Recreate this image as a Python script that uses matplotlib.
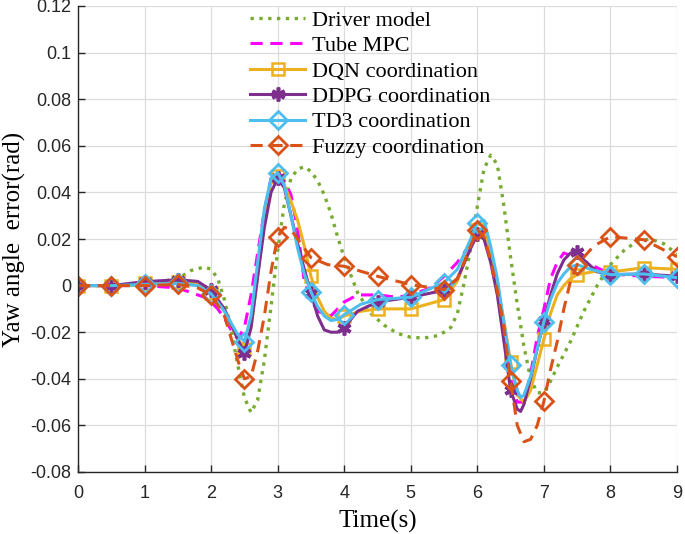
import matplotlib
matplotlib.use("Agg")
import matplotlib.pyplot as plt

# ---- data ----
t_driver = [0, 0.5, 1.0, 1.5, 1.7, 1.9, 2.0, 2.1, 2.2, 2.3, 2.4, 2.5, 2.6, 2.7, 2.8, 2.9,
            3.0, 3.1, 3.2, 3.3, 3.4, 3.5, 3.6, 3.7, 3.8, 3.9, 4.0, 4.2, 4.4, 4.6, 4.8,
            5.0, 5.2, 5.4, 5.5, 5.6, 5.7, 5.8, 5.9, 6.0, 6.1, 6.2, 6.3, 6.4, 6.5, 6.6,
            6.7, 6.8, 6.9, 7.0, 7.1, 7.2, 7.4, 7.6, 7.8, 8.0, 8.2, 8.4, 8.6, 8.8, 9.0]
y_driver = [0, 0, 0.0005, 0.003, 0.0065, 0.008, 0.007, 0.003, -0.006, -0.019, -0.034, -0.048,
            -0.0545, -0.049, -0.032, -0.009, 0.015, 0.035, 0.046, 0.050, 0.051, 0.049, 0.045,
            0.039, 0.031, 0.021, 0.012, -0.003, -0.012, -0.017, -0.0205, -0.0222, -0.0225,
            -0.0215, -0.020, -0.018, -0.012, 0.001, 0.016, 0.034, 0.050, 0.056, 0.052, 0.034,
            0.012, -0.008, -0.026, -0.040, -0.046, -0.046, -0.041, -0.035, -0.024, -0.011,
            0.000, 0.009, 0.015, 0.019, 0.020, 0.018, 0.0135]

t_tube = [0, 0.5, 1.0, 1.5, 1.7, 1.9, 2.0, 2.1, 2.2, 2.3, 2.4, 2.5, 2.6, 2.7, 2.8, 2.9, 3.0,
          3.1, 3.2, 3.3, 3.4, 3.5, 3.6, 3.8, 4.0, 4.2, 4.5, 4.8, 5.0, 5.3, 5.5, 5.7, 5.9,
          6.0, 6.1, 6.2, 6.3, 6.4, 6.5, 6.6, 6.7, 6.8, 6.9, 7.0, 7.1, 7.2, 7.3, 7.5, 7.7,
          8.0, 8.5, 9.0]
y_tube = [0, 0, 0, -0.001, -0.003, -0.005, -0.007, -0.010, -0.014, -0.019, -0.023, -0.018,
          -0.004, 0.014, 0.032, 0.046, 0.049, 0.045, 0.039, 0.024, 0.002, -0.006, -0.011,
          -0.013, -0.007, -0.004, -0.004, -0.005, -0.004, -0.001, 0.004, 0.010, 0.018, 0.022,
          0.022, 0.012, 0.002, -0.020, -0.040, -0.050, -0.050, -0.038, -0.022, -0.010, 0.003,
          0.010, 0.014, 0.012, 0.009, 0.005, 0.004, 0.0035]

t_dqn = [0, 0.5, 1.0, 1.5, 1.8, 2.0, 2.2, 2.4, 2.5, 2.6, 2.7, 2.8, 2.9, 3.0, 3.1, 3.2, 3.3,
         3.4, 3.5, 3.6, 3.7, 3.8, 3.9, 4.0, 4.25, 4.5, 5.0, 5.5, 5.7, 5.9, 6.0, 6.1, 6.2,
         6.3, 6.4, 6.5, 6.6, 6.7, 6.8, 6.9, 7.0, 7.1, 7.2, 7.3, 7.4, 7.5, 7.75, 8.0, 8.5, 9.0]
y_dqn = [0, 0, 0.001, 0.0015, 0.001, -0.003, -0.011, -0.023, -0.027, -0.018, 0.004, 0.028,
         0.044, 0.047, 0.043, 0.036, 0.028, 0.017, 0.004, -0.005, -0.011, -0.014, -0.0145,
         -0.013, -0.011, -0.010, -0.010, -0.006, 0.002, 0.017, 0.024, 0.024, 0.014, -0.001,
         -0.015, -0.033, -0.047, -0.050, -0.045, -0.034, -0.023, -0.012, -0.004, 0.000, 0.003,
         0.0047, 0.006, 0.0058, 0.0077, 0.007]

t_ddpg = [0, 0.5, 1.0, 1.5, 1.8, 2.0, 2.2, 2.4, 2.5, 2.6, 2.7, 2.8, 2.9, 3.0, 3.1, 3.2, 3.3,
          3.4, 3.5, 3.6, 3.7, 3.8, 3.9, 4.0, 4.2, 4.5, 5.0, 5.5, 5.7, 5.9, 6.0, 6.1, 6.2,
          6.3, 6.4, 6.5, 6.6, 6.65, 6.7, 6.8, 6.9, 7.0, 7.1, 7.2, 7.3, 7.4, 7.5, 7.6, 7.8,
          8.0, 8.5, 9.0]
y_ddpg = [0, 0, 0.0017, 0.0025, 0.0018, -0.002, -0.010, -0.023, -0.029, -0.018, 0.004, 0.025,
          0.040, 0.046, 0.042, 0.030, 0.018, 0.007, -0.003, -0.013, -0.019, -0.020, -0.020,
          -0.018, -0.011, -0.007, -0.005, -0.002, 0.003, 0.016, 0.022, 0.020, 0.010, -0.004,
          -0.024, -0.045, -0.053, -0.054, -0.051, -0.040, -0.027, -0.015, -0.004, 0.005,
          0.011, 0.014, 0.0146, 0.011, 0.006, 0.0047, 0.005, 0.004]

t_td3 = [0, 0.5, 1.0, 1.5, 1.8, 2.0, 2.2, 2.4, 2.5, 2.6, 2.7, 2.8, 2.9, 3.0, 3.1, 3.2, 3.3,
         3.4, 3.5, 3.6, 3.7, 3.8, 3.9, 4.0, 4.25, 4.5, 5.0, 5.5, 5.7, 5.9, 6.0, 6.1, 6.2,
         6.3, 6.4, 6.5, 6.6, 6.65, 6.7, 6.8, 6.9, 7.0, 7.1, 7.2, 7.3, 7.4, 7.5, 7.7, 8.0,
         8.5, 9.0]
y_td3 = [0, 0, 0.0005, 0.001, 0.0, -0.0035, -0.011, -0.021, -0.024, -0.013, 0.010, 0.033,
         0.046, 0.0485, 0.043, 0.030, 0.016, 0.005, -0.0026, -0.009, -0.013, -0.015, -0.0145,
         -0.0125, -0.008, -0.006, -0.005, 0.0013, 0.007, 0.020, 0.027, 0.028, 0.017, 0.003,
         -0.016, -0.034, -0.045, -0.048, -0.047, -0.039, -0.027, -0.0155, -0.006, 0.001,
         0.005, 0.008, 0.009, 0.007, 0.0047, 0.005, 0.0034]

t_fuzzy = [0, 0.5, 1.0, 1.5, 1.8, 2.0, 2.2, 2.4, 2.5, 2.6, 2.7, 2.8, 2.9, 3.0, 3.1, 3.2, 3.3,
           3.5, 3.75, 4.0, 4.5, 5.0, 5.5, 5.7, 5.9, 6.0, 6.1, 6.2, 6.3, 6.4, 6.5, 6.6, 6.7,
           6.8, 6.9, 7.0, 7.1, 7.2, 7.3, 7.4, 7.5, 7.75, 8.0, 8.5, 9.0]
y_fuzzy = [0, 0, 0, 0.0005, -0.001, -0.004, -0.013, -0.032, -0.040, -0.039, -0.028, -0.013,
           0.006, 0.021, 0.025, 0.024, 0.020, 0.012, 0.009, 0.0083, 0.004, 0.0004, -0.0017,
           0.003, 0.017, 0.024, 0.021, 0.011, -0.002, -0.018, -0.041, -0.060, -0.067, -0.066,
           -0.060, -0.0497, -0.036, -0.024, -0.010, 0.002, 0.009, 0.017, 0.021, 0.0197, 0.0124]

labels = ["Driver model", "Tube MPC", "DQN coordination", "DDPG coordination",
          "TD3 coordination", "Fuzzy coordination"]


def half_second_marks(ts):
    # markers only sit on the 0.5 s samples
    return [i for i, t in enumerate(ts) if abs(t * 2 - round(t * 2)) < 1e-9]


fig = plt.figure(figsize=(6.85, 5.34), dpi=100)
ax = fig.add_axes([78 / 685, 1 - 472 / 534, 599 / 685, 466 / 534])

lw = 2.2
ax.plot(t_driver, y_driver, ":", color="#77AC30", lw=2.4, label=labels[0])
ax.plot(t_tube, y_tube, "--", color="#FF00FF", lw=lw, dashes=(4, 2.5), label=labels[1])
ax.plot(t_dqn, y_dqn, "-", color="#EDB120", lw=lw, marker="s", ms=9, mfc="none", mew=1.8,
        markevery=half_second_marks(t_dqn), label=labels[2])
ax.plot(t_ddpg, y_ddpg, "-", color="#7E2F8E", lw=lw, marker=(6, 2, 0), ms=10, mew=2.6,
        markevery=half_second_marks(t_ddpg), label=labels[3])
ax.plot(t_td3, y_td3, "-", color="#4DBEEE", lw=lw, marker="D", ms=9, mfc="none", mew=2.0,
        markevery=half_second_marks(t_td3), label=labels[4])
ax.plot(t_fuzzy, y_fuzzy, "--", color="#D95319", lw=lw, dashes=(4, 2.5), marker="D", ms=9.5,
        mfc="none", mew=2.0, markevery=half_second_marks(t_fuzzy), label=labels[5])

ax.set_xlim(0, 9)
ax.set_ylim(-0.08, 0.12)
ax.set_xticks(range(0, 10))
ax.set_yticks([-0.08, -0.06, -0.04, -0.02, 0, 0.02, 0.04, 0.06, 0.08, 0.1, 0.12])
ax.set_yticklabels(["-0.08", "-0.06", "-0.04", "-0.02", "0", "0.02", "0.04", "0.06",
                    "0.08", "0.1", "0.12"])
ax.grid(True, color="#dcdcdc", lw=0.9)
ax.set_axisbelow(True)

for side in ("top", "right"):
    ax.spines[side].set_visible(False)
for side in ("left", "bottom"):
    ax.spines[side].set_color("#262626")
    ax.spines[side].set_linewidth(1.0)

ax.tick_params(direction="in", length=5, width=1.0, color="#262626", labelcolor="#262626")
ax.tick_params(axis="x", pad=9)
ax.tick_params(axis="y", pad=5)
for lab in ax.get_xticklabels() + ax.get_yticklabels():
    lab.set_fontfamily("Liberation Sans")
    lab.set_fontsize(13)

ax.set_xlabel("Time(s)", family="Liberation Serif", fontsize=18, labelpad=6)
ax.set_ylabel("Yaw angle  error(rad)", family="Liberation Serif", fontsize=18, labelpad=3)

ax.legend(loc="upper left", bbox_to_anchor=(0.283, 0.996), frameon=False,
          prop={"family": "Liberation Serif", "size": 16}, handlelength=2.5,
          handletextpad=0.3, labelspacing=0.22, borderpad=0.1, borderaxespad=0)

fig.savefig("out.png", dpi=100)
